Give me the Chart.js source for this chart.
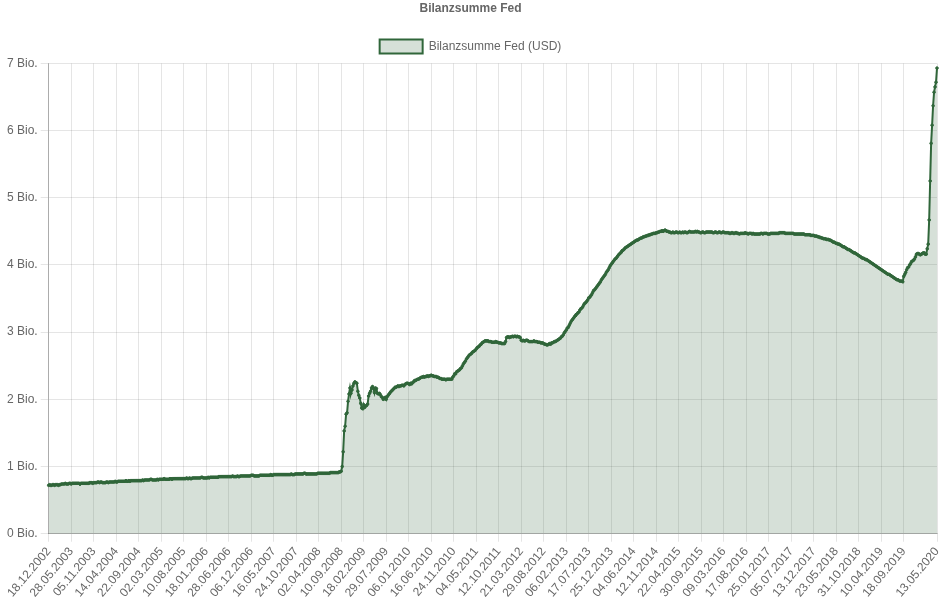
<!DOCTYPE html>
<html>
<head>
<meta charset="utf-8">
<script src="https://cdn.jsdelivr.net/npm/chart.js@4/dist/chart.umd.min.js"></script>
<style>
  html, body { margin: 0; padding: 0; background: #fff; }
  #wrap { position: relative; width: 940px; height: 604px; }
</style>
</head>
<body>
<div id="wrap"><canvas id="fedChart"></canvas></div>
<script>
// weekly values (Wednesdays) in Bio. USD, first week 18.12.2002
const firstWeek = '2002-12-18';

const values2002 = [0.72, 0.73];
const values2003 = [
  0.72, 0.72, 0.73, 0.73, 0.72, 0.73, 0.73, 0.73, 0.72, 0.73, 0.73, 0.74, 0.74,
  0.74, 0.74, 0.75, 0.74, 0.74, 0.74, 0.75, 0.75, 0.74, 0.75, 0.75, 0.75, 0.75,
  0.75, 0.75, 0.75, 0.75, 0.74, 0.75, 0.75, 0.75, 0.75, 0.75, 0.75, 0.75, 0.75,
  0.75, 0.76, 0.76, 0.76, 0.75, 0.76, 0.76, 0.76, 0.76, 0.77, 0.77, 0.76, 0.77, 0.77
];
const values2004 = [
  0.76, 0.76, 0.76, 0.76, 0.77, 0.77, 0.76, 0.77, 0.77, 0.77, 0.77, 0.77, 0.77,
  0.78, 0.77, 0.77, 0.78, 0.78, 0.78, 0.78, 0.78, 0.78, 0.78, 0.78, 0.79, 0.78,
  0.78, 0.79, 0.78, 0.79, 0.79, 0.79, 0.79, 0.79, 0.79, 0.79, 0.79, 0.79, 0.79,
  0.79, 0.79, 0.80, 0.79, 0.80, 0.80, 0.80, 0.80, 0.80, 0.80, 0.81, 0.81, 0.80
];
const values2005 = [
  0.80, 0.80, 0.80, 0.80, 0.81, 0.80, 0.81, 0.81, 0.81, 0.81, 0.81, 0.82, 0.81,
  0.81, 0.81, 0.81, 0.81, 0.82, 0.82, 0.81, 0.82, 0.82, 0.82, 0.82, 0.82, 0.82,
  0.82, 0.82, 0.82, 0.82, 0.82, 0.82, 0.82, 0.82, 0.83, 0.82, 0.82, 0.83, 0.82,
  0.82, 0.83, 0.83, 0.83, 0.83, 0.83, 0.83, 0.83, 0.83, 0.83, 0.84, 0.84, 0.83
];
const values2006 = [
  0.83, 0.83, 0.83, 0.83, 0.84, 0.83, 0.84, 0.84, 0.84, 0.84, 0.84, 0.84, 0.84,
  0.84, 0.84, 0.85, 0.85, 0.85, 0.85, 0.85, 0.85, 0.85, 0.85, 0.85, 0.85, 0.85,
  0.85, 0.85, 0.85, 0.86, 0.85, 0.85, 0.85, 0.85, 0.86, 0.85, 0.85, 0.86, 0.86,
  0.86, 0.86, 0.86, 0.86, 0.86, 0.86, 0.86, 0.86, 0.86, 0.87, 0.87, 0.87, 0.86
];
const values2007 = [
  0.86, 0.86, 0.86, 0.86, 0.86, 0.87, 0.87, 0.87, 0.87, 0.87, 0.87, 0.87, 0.87,
  0.87, 0.87, 0.87, 0.88, 0.87, 0.87, 0.88, 0.88, 0.88, 0.88, 0.88, 0.88, 0.88,
  0.88, 0.88, 0.88, 0.88, 0.88, 0.88, 0.88, 0.88, 0.88, 0.88, 0.88, 0.89, 0.88,
  0.88, 0.88, 0.89, 0.89, 0.89, 0.89, 0.89, 0.89, 0.89, 0.89, 0.89, 0.90, 0.90
];
const values2008 = [
  0.89, 0.89, 0.89, 0.89, 0.89, 0.89, 0.89, 0.89, 0.89, 0.89, 0.89, 0.89, 0.90,
  0.90, 0.90, 0.90, 0.90, 0.90, 0.90, 0.90, 0.90, 0.90, 0.90, 0.90, 0.90, 0.91,
  0.91, 0.91, 0.91, 0.91, 0.91, 0.91, 0.91, 0.91, 0.92, 0.92, 0.93,
  1.00, 1.22, 1.53, 1.60, 1.78, 1.80, 1.97, 2.08, 2.17, 2.09, 2.14, 2.20, 2.24,
  2.26, 2.25, 2.24
];
const values2009 = [
  2.12, 2.06, 2.02, 1.94, 1.87, 1.86, 1.92, 1.88, 1.90, 1.91, 1.93, 2.05, 2.09,
  2.12, 2.17, 2.19, 2.16, 2.10, 2.17, 2.16, 2.09, 2.08, 2.09, 2.07, 2.04, 2.03,
  2.00, 2.01, 2.03, 2.00, 2.04, 2.06, 2.08, 2.10, 2.12, 2.13, 2.15, 2.16, 2.18,
  2.18, 2.19, 2.20, 2.19, 2.20, 2.20, 2.21, 2.21, 2.20, 2.22, 2.23, 2.24, 2.24
];
const values2010 = [
  2.23, 2.22, 2.24, 2.23, 2.25, 2.26, 2.28, 2.28, 2.29, 2.30, 2.30, 2.31, 2.32,
  2.33, 2.33, 2.34, 2.33, 2.34, 2.34, 2.35, 2.34, 2.35, 2.35, 2.36, 2.35, 2.35,
  2.34, 2.34, 2.34, 2.33, 2.33, 2.32, 2.31, 2.31, 2.30, 2.30, 2.30, 2.30, 2.29,
  2.30, 2.30, 2.30, 2.30, 2.30, 2.30, 2.33, 2.35, 2.38, 2.38, 2.41, 2.42, 2.43
];
const values2011 = [
  2.44, 2.46, 2.47, 2.50, 2.53, 2.55, 2.57, 2.60, 2.62, 2.64, 2.66, 2.67, 2.68,
  2.70, 2.71, 2.72, 2.73, 2.75, 2.77, 2.78, 2.79, 2.81, 2.82, 2.84, 2.85, 2.86,
  2.87, 2.87, 2.87, 2.87, 2.86, 2.86, 2.86, 2.85, 2.85, 2.85, 2.85, 2.86, 2.85,
  2.85, 2.84, 2.84, 2.84, 2.83, 2.83, 2.83, 2.83, 2.86, 2.92, 2.93, 2.93, 2.92
];
const values2012 = [
  2.93, 2.93, 2.94, 2.93, 2.94, 2.94, 2.93, 2.94, 2.93, 2.93, 2.92, 2.88, 2.87,
  2.88, 2.87, 2.87, 2.88, 2.88, 2.87, 2.86, 2.86, 2.86, 2.86, 2.86, 2.87, 2.86,
  2.86, 2.86, 2.85, 2.85, 2.85, 2.84, 2.84, 2.84, 2.83, 2.82, 2.82, 2.81, 2.81,
  2.82, 2.83, 2.82, 2.84, 2.84, 2.85, 2.86, 2.86, 2.87, 2.88, 2.89, 2.90, 2.91
];
const values2013 = [
  2.93, 2.94, 2.96, 2.99, 3.01, 3.03, 3.06, 3.07, 3.10, 3.13, 3.16, 3.18, 3.20,
  3.22, 3.24, 3.26, 3.27, 3.29, 3.30, 3.33, 3.35, 3.36, 3.38, 3.41, 3.43, 3.44,
  3.46, 3.48, 3.51, 3.52, 3.54, 3.56, 3.59, 3.62, 3.63, 3.65, 3.67, 3.69, 3.71,
  3.73, 3.75, 3.78, 3.80, 3.82, 3.84, 3.86, 3.89, 3.91, 3.93, 3.96, 3.99, 4.01
];
const values2014 = [
  4.03, 4.05, 4.07, 4.09, 4.10, 4.12, 4.14, 4.16, 4.17, 4.19, 4.21, 4.22, 4.23,
  4.25, 4.26, 4.27, 4.28, 4.29, 4.30, 4.31, 4.32, 4.33, 4.34, 4.35, 4.36, 4.37,
  4.37, 4.38, 4.39, 4.40, 4.40, 4.41, 4.42, 4.42, 4.43, 4.43, 4.44, 4.44, 4.45,
  4.45, 4.46, 4.46, 4.47, 4.47, 4.47, 4.48, 4.48, 4.49, 4.49, 4.50, 4.50, 4.51, 4.50
];
const values2015 = [
  4.51, 4.52, 4.51, 4.50, 4.50, 4.49, 4.49, 4.48, 4.48, 4.49, 4.48, 4.48, 4.49,
  4.49, 4.48, 4.48, 4.49, 4.48, 4.48, 4.49, 4.48, 4.49, 4.49, 4.48, 4.48, 4.49,
  4.50, 4.49, 4.49, 4.49, 4.49, 4.49, 4.50, 4.49, 4.50, 4.49, 4.49, 4.48, 4.48,
  4.49, 4.49, 4.48, 4.48, 4.49, 4.49, 4.49, 4.49, 4.49, 4.49, 4.49, 4.48, 4.48
];
const values2016 = [
  4.49, 4.49, 4.48, 4.48, 4.49, 4.49, 4.48, 4.48, 4.49, 4.49, 4.48, 4.48, 4.48,
  4.48, 4.48, 4.47, 4.47, 4.48, 4.48, 4.47, 4.47, 4.48, 4.48, 4.47, 4.47, 4.46,
  4.47, 4.47, 4.47, 4.47, 4.47, 4.48, 4.47, 4.47, 4.46, 4.47, 4.47, 4.47, 4.46,
  4.47, 4.46, 4.46, 4.46, 4.46, 4.46, 4.46, 4.46, 4.47, 4.47, 4.46, 4.47, 4.47
];
const values2017 = [
  4.47, 4.47, 4.46, 4.46, 4.46, 4.47, 4.47, 4.47, 4.47, 4.47, 4.47, 4.47, 4.47,
  4.47, 4.48, 4.48, 4.48, 4.48, 4.48, 4.48, 4.47, 4.47, 4.47, 4.47, 4.47, 4.47,
  4.47, 4.47, 4.47, 4.46, 4.46, 4.46, 4.46, 4.46, 4.46, 4.46, 4.46, 4.46, 4.46,
  4.46, 4.45, 4.45, 4.45, 4.45, 4.45, 4.45, 4.44, 4.44, 4.44, 4.44, 4.43, 4.43
];
const values2018 = [
  4.43, 4.42, 4.42, 4.41, 4.41, 4.40, 4.40, 4.39, 4.39, 4.39, 4.38, 4.38, 4.38,
  4.37, 4.37, 4.36, 4.35, 4.34, 4.34, 4.33, 4.32, 4.32, 4.31, 4.31, 4.30, 4.29,
  4.28, 4.27, 4.27, 4.26, 4.25, 4.24, 4.23, 4.23, 4.22, 4.21, 4.20, 4.19, 4.18,
  4.18, 4.17, 4.16, 4.15, 4.14, 4.13, 4.12, 4.11, 4.10, 4.10, 4.09, 4.08, 4.08
];
const values2019 = [
  4.07, 4.06, 4.05, 4.04, 4.03, 4.02, 4.01, 4.00, 3.99, 3.98, 3.97, 3.96, 3.95,
  3.94, 3.93, 3.92, 3.91, 3.90, 3.89, 3.88, 3.87, 3.86, 3.86, 3.85, 3.84, 3.83,
  3.82, 3.81, 3.80, 3.79, 3.78, 3.78, 3.77, 3.76, 3.76, 3.76, 3.75, 3.83, 3.86,
  3.89, 3.93, 3.96, 3.97, 4.00, 4.02, 4.05, 4.06, 4.07, 4.09, 4.12, 4.16, 4.17
];
const values2020 = [
  4.17, 4.16, 4.15, 4.16, 4.17, 4.18, 4.18, 4.16, 4.16, 4.24,
  4.31, 4.67, 5.25, 5.81, 6.08, 6.37, 6.57, 6.65, 6.72, 6.93
];

const yTicks = [0, 1, 2, 3, 4, 5, 6, 7];
const labelStep = 23;

const balance = [].concat(values2002, values2003, values2004, values2005, values2006,
  values2007, values2008, values2009, values2010, values2011, values2012, values2013,
  values2014, values2015, values2016, values2017, values2018, values2019, values2020);

// one label per weekly value
const weekLabels = [];
const start = new Date(firstWeek + 'T00:00:00Z');
for (let i = 0; i < balance.length; i++) {
  const d = new Date(start.getTime() + i * 7 * 86400000);
  const dd = String(d.getUTCDate()).padStart(2, '0');
  const mm = String(d.getUTCMonth() + 1).padStart(2, '0');
  weekLabels.push(dd + '.' + mm + '.' + d.getUTCFullYear());
}

const lineColor = 'rgb(48, 102, 58)';
const fillColor = 'rgba(48, 102, 58, 0.2)';
const fontFamily = "Arial, 'Liberation Sans', sans-serif";

new Chart(document.getElementById('fedChart'), {
  type: 'line',
  data: {
    labels: weekLabels,
    datasets: [{
      label: 'Bilanzsumme Fed (USD)',
      data: balance,
      borderColor: lineColor,
      backgroundColor: fillColor,
      pointBackgroundColor: lineColor,
      pointBorderColor: lineColor,
      borderWidth: 2,
      pointRadius: 1.3,
      pointBorderWidth: 1,
      fill: 'origin',
      tension: 0,
    }],
  },
  options: {
    responsive: true,
    maintainAspectRatio: false,
    animation: false,
    layout: { autoPadding: false, padding: { left: 4, right: 3, top: 0, bottom: 1 } },
    plugins: {
      title: {
        display: true,
        text: 'Bilanzsumme Fed',
        color: '#666',
        font: { family: fontFamily, size: 12, weight: 'bold' },
        padding: { top: 1, bottom: 10 },
      },
      legend: {
        position: 'top',
        labels: {
          color: '#666',
          boxWidth: 43,
          boxHeight: 14,
          padding: 14,
          font: { family: fontFamily, size: 12 },
        },
      },
      tooltip: { enabled: false },
    },
    scales: {
      x: {
        grid: { color: 'rgba(0,0,0,0.1)', tickLength: 8 },
        border: { color: 'rgba(0,0,0,0.25)' },
        // let the last rotated label end at the tick, like the original
        afterFit: (scale) => { scale.paddingRight = 0; },
        ticks: {
          autoSkip: false,
          minRotation: 50,
          maxRotation: 50,
          color: '#666',
          font: { family: fontFamily, size: 12 },
          callback: function (val, i) {
            const n = weekLabels.length;
            if ((i % labelStep === 0 && i + labelStep < n) || i === n - 1) return weekLabels[i];
            return null;
          },
        },
      },
      y: {
        min: yTicks[0],
        max: yTicks[yTicks.length - 1],
        grid: { color: 'rgba(0,0,0,0.1)', tickLength: 8 },
        border: { color: 'rgba(0,0,0,0.25)' },
        ticks: {
          stepSize: 1,
          color: '#666',
          font: { family: fontFamily, size: 12 },
          callback: (v) => v + ' Bio.',
        },
      },
    },
  },
});
</script>
</body>
</html>
